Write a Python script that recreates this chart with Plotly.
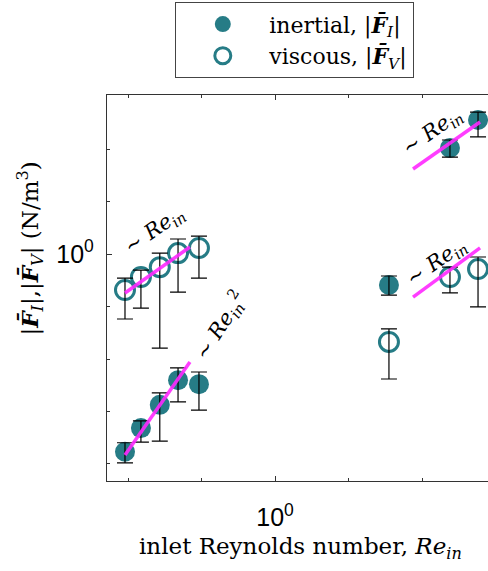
import plotly.graph_objects as go
import numpy as np

# ---------------- data ----------------
re_left = [0.625, 0.657, 0.697, 0.738, 0.788]
re_right = [1.429, 1.730, 1.889]
re_all = re_left + re_right

f_inertial = [0.420, 0.466, 0.516, 0.575, 0.565, 0.873, 1.592, 1.800]
f_inertial_hi = [0.437, 0.481, 0.544, 0.607, 0.596, 0.908, 1.649, 1.864]
f_inertial_lo = [0.400, 0.438, 0.440, 0.523, 0.504, 0.835, 1.530, 1.671]

f_viscous = [0.854, 0.904, 0.944, 1.004, 1.027, 0.680, 0.904, 0.936]
f_viscous_hi = [0.900, 0.932, 1.004, 1.068, 1.082, 0.720, 0.944, 0.987]
f_viscous_lo = [0.752, 0.789, 0.662, 0.846, 0.900, 0.578, 0.843, 0.793]

# scaling guide lines (end points)
guide_vis_left_x = [0.625, 0.766]
guide_vis_left_y = [0.843, 1.031]
guide_in_left_x = [0.625, 0.766]
guide_in_left_y = [0.414, 0.623]
guide_in_right_x = [1.541, 1.901]
guide_in_right_y = [1.452, 1.784]
guide_vis_right_x = [1.541, 1.901]
guide_vis_right_y = [0.828, 1.027]

x_tick_major = [1.0]
x_tick_minor = [10 ** -0.2, 10 ** -0.1, 10 ** 0.1, 10 ** 0.2]
y_tick_major = [1.0]
y_tick_minor = [10 ** 0.2, 10 ** 0.1, 10 ** -0.1, 10 ** -0.2, 10 ** -0.3, 10 ** -0.4]

TEAL = "#267c86"
MAGENTA = "rgba(255,40,255,0.9)"
SERIF = "DejaVu Serif"
SANS = "Liberation Sans"

def err_plus(v, hi):
    return [h - x for x, h in zip(v, hi)]

def err_minus(v, lo):
    return [x - l for x, l in zip(v, lo)]

fig = go.Figure()

fig.add_trace(go.Scatter(
    x=re_all, y=f_inertial, mode="markers", name="inertial, |<b><i>F̄</i></b><sub><i>I</i></sub>|",
    marker=dict(color=TEAL, size=20, line=dict(width=0)), cliponaxis=True))
fig.add_trace(go.Scatter(
    x=re_all, y=f_viscous, mode="markers", name="viscous, |<b><i>F̄</i></b><sub><i>V</i></sub>|",
    marker=dict(symbol="circle-open", color=TEAL, size=19, line=dict(width=3, color=TEAL)), cliponaxis=True))

# error bars on top of markers
for v, hi, lo in [(f_inertial, f_inertial_hi, f_inertial_lo), (f_viscous, f_viscous_hi, f_viscous_lo)]:
    fig.add_trace(go.Scatter(
        x=re_all, y=v, mode="markers", marker=dict(size=2, opacity=0), showlegend=False, hoverinfo="skip",
        error_y=dict(type="data", symmetric=False, array=err_plus(v, hi), arrayminus=err_minus(v, lo),
                     color="black", thickness=1.2, width=8)))

for gx, gy in [(guide_vis_left_x, guide_vis_left_y), (guide_in_left_x, guide_in_left_y),
               (guide_in_right_x, guide_in_right_y), (guide_vis_right_x, guide_vis_right_y)]:
    fig.add_trace(go.Scatter(x=gx, y=gy, mode="lines", line=dict(color=MAGENTA, width=3.5),
                             showlegend=False, hoverinfo="skip"))

lab1 = "~ <i>Re</i><sub><i>in</i></sub>"
lab2 = "~ <i>Re</i><sub><i>in</i></sub><sup>2</sup>"
for (lx, ly, txt, ang) in [(-0.1633, 0.0457, lab1, -35), (-0.0748, -0.1352, lab2, -57),
                           (0.2136, 0.2324, lab1, -35), (0.2204, -0.0152, lab1, -35)]:
    fig.add_annotation(x=lx, y=ly, xref="x", yref="y", text=txt, textangle=ang, showarrow=False,
                       font=dict(family=SERIF, size=21, color="black"), xanchor="center", yanchor="middle")

# y-axis title
fig.add_annotation(x=-0.2021, y=0.6023, xref="paper", yref="paper", textangle=-90, showarrow=False,
                   text="|<b><i>F̄</i></b><sub><i>I</i></sub>|,|<b><i>F̄</i></b><sub><i>V</i></sub>| (N/m<sup>3</sup>)",
                   font=dict(family=SERIF, size=23, color="black"), xanchor="center", yanchor="middle")
# x-axis title
fig.add_annotation(x=0.5066, y=-0.1736, xref="paper", yref="paper", showarrow=False,
                   text="inlet Reynolds number, <i>Re</i><sub><i>in</i></sub>",
                   font=dict(family=SERIF, size=23, color="black"), xanchor="center", yanchor="middle")

axis_common = dict(showline=True, linecolor="#333333", linewidth=1.3, ticks="inside",
                   tickcolor="#333333", tickwidth=1, showgrid=False, zeroline=False,
                   tickfont=dict(family=SANS, size=25, color="black"))

fig.update_xaxes(type="log", range=[-0.2286, 0.2898], mirror="ticks", tickvals=x_tick_major,
                 ticktext=["10<sup>0</sup>"], ticklen=5,
                 minor=dict(tickvals=x_tick_minor, ticklen=3, ticks="inside", tickcolor="#333333", showgrid=False),
                 ticklabelstandoff=14, **axis_common)
fig.update_yaxes(type="log", range=[-0.4324, 0.3029], mirror=False, tickvals=y_tick_major,
                 ticktext=["10<sup>0</sup>"], ticklen=5,
                 minor=dict(tickvals=y_tick_minor, ticklen=3, ticks="inside", tickcolor="#333333", showgrid=False),
                 ticklabelstandoff=7, **axis_common)

fig.update_layout(
    width=488, height=571,
    margin=dict(l=107, r=0, t=95, b=90, pad=0, autoexpand=False),
    plot_bgcolor="white", paper_bgcolor="white",
    showlegend=True,
    legend=dict(x=0.1785, y=1.2409, xanchor="left", yanchor="top", bordercolor="#444444", borderwidth=1.3,
                bgcolor="white", font=dict(family=SERIF, size=22, color="black"),
                itemwidth=83, indentation=0, tracegroupgap=0),
)

# remove the browser's default 8 px page margin so the figure sits at the window origin
fig.write_html("out.html", config={"displayModeBar": False},
               post_script="document.body.style.margin='0px';")
